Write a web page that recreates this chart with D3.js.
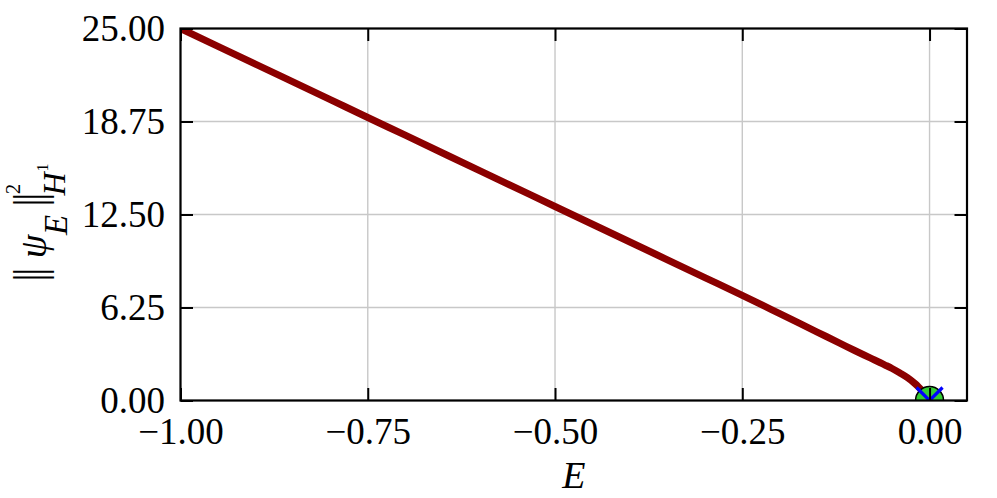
<!DOCTYPE html>
<html>
<head>
<meta charset="utf-8">
<script src="https://cdn.jsdelivr.net/npm/d3@7/dist/d3.min.js"></script>
<style>
  html, body { margin: 0; padding: 0; background: #ffffff; }
  svg { display: block; }
  text { fill: #000; }
</style>
</head>
<body>
<svg id="chart" width="997" height="498"></svg>
<script>
// ---- data ----
const xTicks = [-1, -0.75, -0.5, -0.25, 0];
const yTicks = [0, 6.25, 12.5, 18.75, 25];
const energy = [-1.00, -0.90, -0.80, -0.75, -0.70, -0.60, -0.50, -0.40, -0.30, -0.25,
                -0.20, -0.15, -0.12, -0.10, -0.08, -0.06, -0.05, -0.04, -0.03, -0.02,
                -0.015, -0.01, -0.006, -0.003];
const normSq = [25.00, 22.61, 20.22, 19.02, 17.83, 15.43, 13.04, 10.65, 8.26, 7.07,
                5.84, 4.60, 3.86, 3.36, 2.88, 2.40, 2.15, 1.86, 1.55, 1.16,
                0.93, 0.67, 0.43, 0.22];
const markerE = [0];
const markerNorm = [0];
const xDomain = [-1, 0.05];
const yDomain = [0, 25];

// ---- layout ----
const serif = "'Liberation Serif', 'DejaVu Serif', serif";
const svg = d3.select("#chart");
const L = 180.5, R = 967, T = 28.5, B = 400.5;
const x = d3.scaleLinear().domain(xDomain).range([L, R]);
const y = d3.scaleLinear().domain(yDomain).range([B, T]);
const fmt = v => d3.format(".2f")(v).replace("-", "\u2212");

svg.append("defs").append("clipPath").attr("id", "plotclip")
  .append("rect").attr("x", L).attr("y", T).attr("width", R - L).attr("height", B - T);

// grid
const grid = svg.append("g");
grid.selectAll("line.gx").data(xTicks).join("line")
  .attr("x1", d => x(d)).attr("x2", d => x(d)).attr("y1", T).attr("y2", B)
  .attr("stroke", "#c8c8c8").attr("stroke-width", 1.4);
grid.selectAll("line.gy").data(yTicks).join("line")
  .attr("y1", d => y(d)).attr("y2", d => y(d)).attr("x1", L).attr("x2", R)
  .attr("stroke", "#c8c8c8").attr("stroke-width", 1.4);

// curve
const pts = energy.map((e, i) => [e, normSq[i]]);
const line = d3.line().x(d => x(d[0])).y(d => y(d[1])).curve(d3.curveMonotoneX);
const plot = svg.append("g").attr("clip-path", "url(#plotclip)");
plot.append("path").datum(pts).attr("d", line)
  .attr("fill", "none").attr("stroke", "#8b0000").attr("stroke-width", 7)
  .attr("stroke-linecap", "square").attr("stroke-linejoin", "round");

// marker
const mk = markerE.map((e, i) => [e, markerNorm[i]]);
plot.selectAll("circle.mk").data(mk).join("circle")
  .attr("cx", d => x(d[0])).attr("cy", d => y(d[1])).attr("r", 14)
  .attr("fill", "#33cc33").attr("stroke", "#000").attr("stroke-width", 1.5);
const xs = 13;
plot.selectAll("path.mkx").data(mk).join("path")
  .attr("d", d => {
    const cx = x(d[0]), cy = y(d[1]);
    return `M${cx - xs},${cy - xs}L${cx + xs},${cy + xs}M${cx - xs},${cy + xs}L${cx + xs},${cy - xs}`;
  })
  .attr("stroke", "#0000ff").attr("stroke-width", 3.2).attr("fill", "none");

// axes
const tickLen = 12.5;
function styleAxis(g) {
  g.select(".domain").remove();
  g.selectAll(".tick line").attr("stroke", "#000").attr("stroke-width", 2);
  g.selectAll(".tick text").style("font-size", "37px").style("font-family", serif).attr("fill", "#000");
}
svg.append("g").attr("transform", `translate(0,${B})`)
  .call(d3.axisBottom(x).tickValues(xTicks).tickSizeInner(-tickLen).tickSizeOuter(0).tickPadding(17).tickFormat(fmt))
  .call(styleAxis);
svg.append("g").attr("transform", `translate(0,${T})`)
  .call(d3.axisTop(x).tickValues(xTicks).tickSizeInner(-tickLen).tickSizeOuter(0).tickFormat(""))
  .call(styleAxis);
svg.append("g").attr("transform", `translate(${L},0)`)
  .call(d3.axisLeft(y).tickValues(yTicks).tickSizeInner(-tickLen).tickSizeOuter(0).tickPadding(15.5).tickFormat(fmt))
  .call(styleAxis);
svg.append("g").attr("transform", `translate(${R},0)`)
  .call(d3.axisRight(y).tickValues(yTicks).tickSizeInner(-tickLen).tickSizeOuter(0).tickFormat(""))
  .call(styleAxis);

// spines
svg.append("rect").attr("x", L).attr("y", T).attr("width", R - L).attr("height", B - T)
  .attr("fill", "none").attr("stroke", "#000").attr("stroke-width", 2.2);

// x label
svg.append("text").attr("x", (L + R) / 2).attr("y", 488).attr("text-anchor", "middle")
  .style("font-family", serif).style("font-size", "38px").style("font-style", "italic").text("E");

// y label pieces: [text, centerY (image), baselineX (image), fontSize, italic, letterSpacing, family, xScale]
const ylab = svg.append("g").attr("transform", "rotate(-90)");
const pieces = [
  ["||", 277, 44, 40, false, -4, "'DejaVu Sans'", 0.6],
  ["\u03c8", 246.5, 46, 38, true, 0, serif, 1],
  ["E", 225, 67, 33, true, 0, serif, 1],
  ["||", 202, 44, 40, false, -4, "'DejaVu Sans'", 0.6],
  ["2", 189, 20, 21, false, 0, serif, 1],
  ["H", 184, 65, 32, true, 0, serif, 1],
  ["1", 167.5, 48, 16, false, 0, serif, 1]
];
ylab.selectAll("text").data(pieces).join("text")
  .attr("transform", d => `translate(${-d[1]},${d[2]}) scale(${d[7]},1)`)
  .attr("x", d => -d[5] / 2).attr("y", 0).attr("text-anchor", "middle")
  .style("font-size", d => d[3] + "px").style("font-style", d => d[4] ? "italic" : "normal")
  .style("letter-spacing", d => d[5] + "px")
  .style("font-family", d => d[6])
  .text(d => d[0]);
</script>
</body>
</html>
